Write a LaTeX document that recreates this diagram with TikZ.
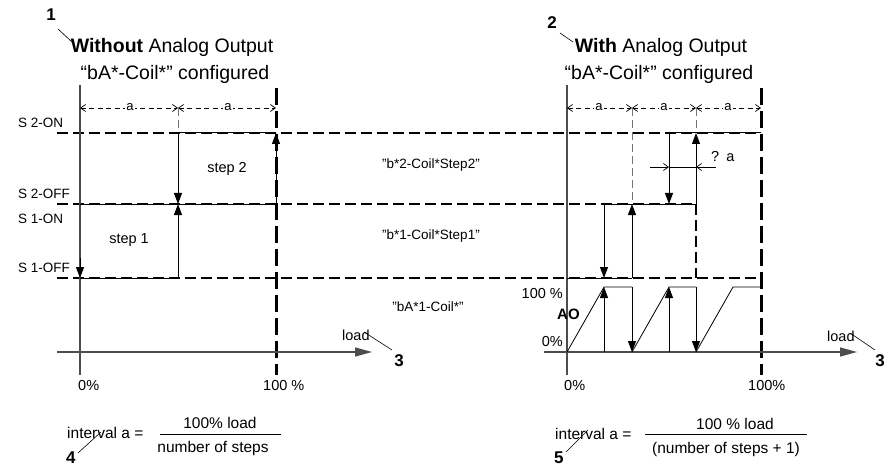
\documentclass[tikz,border=0pt]{standalone}
\usepackage{fontspec}
\setmainfont{Liberation Sans}
\usetikzlibrary{arrows.meta}
\begin{document}
\begin{tikzpicture}[x=1pt,y=-1pt,
  axisline/.style={draw=black!70,line width=1.2pt},
  stepline/.style={draw=black,line width=1pt},
  aoline/.style={draw=black,line width=0.8pt},
  thickdash/.style={draw=black,line width=3pt,dash pattern=on 17pt off 6pt},
  levdash/.style={draw=black,line width=2.2pt,dash pattern=on 11pt off 5pt},
  extdash/.style={draw=black!55,line width=1pt,dash pattern=on 8pt off 4pt},
  dimline/.style={draw=black,line width=0.7pt,dash pattern=on 5pt off 3.5pt,
     {Straight Barb[length=5pt,width=7pt]}-{Straight Barb[length=5pt,width=7pt]}},
  dimsolid/.style={draw=black,line width=0.7pt,-{Straight Barb[length=5pt,width=7pt]}},
  tip/.style={-{Triangle[length=11pt,width=8pt]}},
  leader/.style={draw=black,line width=0.6pt},
  title/.style={font=\fontsize{19.5}{22}\selectfont,inner sep=0pt,anchor=base},
  lvl/.style={font=\fontsize{13.5}{16}\selectfont,inner sep=0pt,anchor=base west},
  txt/.style={font=\fontsize{14.5}{17}\selectfont,inner sep=0pt,anchor=base},
  coil/.style={font=\fontsize{13.5}{16}\selectfont,inner sep=0pt,anchor=base},
  alabel/.style={font=\fontsize{13}{15}\selectfont,fill=white,inner sep=1pt},
  num/.style={font=\fontsize{17}{19}\selectfont\bfseries,inner sep=0pt,anchor=base},
  frm/.style={font=\fontsize{15.5}{18}\selectfont,inner sep=0pt,anchor=base}
]
\useasboundingbox (0,0) rectangle (884,468);
\fill[white] (0,0) rectangle (884,468);

% x positions
\coordinate (lxs) at (57,0);
\coordinate (lx0) at (80,0);
\coordinate (lxa) at (178,0);
\coordinate (lx1) at (276,0);
\coordinate (lxe) at (372,0);
\coordinate (rxs) at (544,0);
\coordinate (rx0) at (567,0);
\coordinate (rxo1) at (604,0);
\coordinate (rxa) at (632,0);
\coordinate (rxo2) at (669,0);
\coordinate (rxb) at (696,0);
\coordinate (rxr3) at (733,0);
\coordinate (rx1) at (761,0);
\coordinate (rxe) at (857,0);
% y positions
\coordinate (ytop) at (0,85);
\coordinate (ydt) at (0,88);
\coordinate (ydim) at (0,108);
\coordinate (y2on) at (0,133);
\coordinate (yq) at (0,167);
\coordinate (y12) at (0,204);
\coordinate (yoffa) at (0,258);
\coordinate (y1off) at (0,278);
\coordinate (y100) at (0,287);
\coordinate (yax) at (0,352);
\coordinate (ybot) at (0,375);

% titles
\node[num] (n1) at (51,21) {1};
\draw[leader] (58,29) -- (72,42);
\node[title] (t1) at (172,53) {\textbf{Without} Analog Output};
\node[title] (t1b) at (175,80) {“bA*-Coil*” configured};
\node[num] (n2) at (552,29) {2};
\draw[leader] (560,33) -- (573,42);
\node[title] (t2) at (661,53) {\textbf{With} Analog Output};
\node[title] (t2b) at (659,80) {“bA*-Coil*” configured};

% level labels
\node[lvl] (s2on) at (18,128) {S 2-ON};
\node[lvl] (s2off) at (18,198) {S 2-OFF};
\node[lvl] (s1on) at (18,223) {S 1-ON};
\node[lvl] (s1off) at (18,272) {S 1-OFF};

% level dashed lines
\draw[levdash] (lxs |- y2on) -- (rx1 |- y2on);
\draw[levdash] (lxs |- y12) -- (rxb |- y12);
\draw[levdash] (lxs |- y1off) -- (rx1 |- y1off);

% thick dashed 100% lines
\draw[thickdash] (lx1 |- ydt) -- (lx1 |- ybot);
\draw[thickdash] (rx1 |- ydt) -- (rx1 |- ybot);
\draw[levdash] (rxb |- y12) -- (rxb |- y1off);

% axes
\draw[axisline] (lx0 |- ytop) -- (lx0 |- ybot);
\draw[axisline,-{Triangle[length=17pt,width=9pt]}] (lxs |- yax) -- (lxe |- yax);
\draw[axisline] (rx0 |- ytop) -- (rx0 |- ybot);
\draw[axisline,-{Triangle[length=17pt,width=9pt]}] (rxs |- yax) -- (rxe |- yax);

% left dimension line
\draw[dimline] (lx0 |- ydim) -- (lxa |- ydim);
\draw[dimline] (lxa |- ydim) -- (lx1 |- ydim);
\node[alabel] (la1) at (130,107) {a};
\node[alabel] (la2) at (228,107) {a};
\draw[extdash] (lxa |- ydim) -- (lxa |- y2on);

% left step curve
\draw[stepline] (lx0 |- y12) -- (lx1 |- y12);
\draw[stepline] (lx0 |- y1off) -- (lxa |- y1off);
\draw[stepline,tip] (lxa |- y1off) -- (lxa |- y12);
\draw[stepline,tip] (lxa |- y2on) -- (lxa |- y12);
\draw[stepline] (lxa |- y2on) -- (lx1 |- y2on);
\draw[stepline,tip] (lx1 |- y12) -- (lx1 |- y2on);
\draw[stepline,tip] (lx0 |- yoffa) -- (lx0 |- y1off);
\node[txt] (st2) at (227,172) {step 2};
\node[txt] (st1) at (129,243) {step 1};

% middle texts
\node[coil] (c2) at (431,169) {"b*2-Coil*Step2"};
\node[coil] (c1) at (431,240) {"b*1-Coil*Step1"};
\node[coil] (c0) at (428,311) {"bA*1-Coil*"};

% right dimension line
\draw[dimline] (rx0 |- ydim) -- (rxa |- ydim);
\draw[dimline] (rxa |- ydim) -- (rxb |- ydim);
\draw[dimline] (rxb |- ydim) -- (rx1 |- ydim);
\node[alabel] (ra1) at (599,107) {a};
\node[alabel] (ra2) at (664,107) {a};
\node[alabel] (ra3) at (728,107) {a};
\draw[extdash] (rxa |- ydim) -- (rxa |- y12);
\draw[extdash] (rxb |- ydim) -- (rxb |- y2on);

% right step curves
\draw[stepline] (rx0 |- y1off) -- (rxa |- y1off);
\draw[stepline,tip] (rxa |- y1off) -- (rxa |- y12);
\draw[stepline] (rxo1 |- y12) -- (rxb |- y12);
\draw[stepline,tip] (rxo1 |- y12) -- (rxo1 |- y1off);
\draw[stepline] (rxo2 |- y2on) -- (rx1 |- y2on);
\draw[stepline,tip] (rxo2 |- y2on) -- (rxo2 |- y12);
\draw[stepline,tip] (rxb |- y12) -- (rxb |- y2on);

% hysteresis dimension
\coordinate (qL) at (650,167);
\coordinate (qR) at (716,167);
\draw[dimsolid] (qL) -- (rxo2 |- yq);
\draw[dimsolid] (qR) -- (rxb |- yq);
\draw[draw=black,line width=0.7pt] (rxo2 |- yq) -- (rxb |- yq);
\node[txt,anchor=base west] (qa) at (711,162) {?\hspace{7pt}a};

% analog output
\draw[aoline] (rx0 |- yax) -- (rxo1 |- y100) -- (rxa |- y100);
\draw[aoline,tip] (rxa |- y100) -- (rxa |- yax);
\draw[aoline] (rxa |- yax) -- (rxo2 |- y100) -- (rxb |- y100);
\draw[aoline,tip] (rxb |- y100) -- (rxb |- yax);
\draw[aoline] (rxb |- yax) -- (rxr3 |- y100) -- (rx1 |- y100);
\draw[aoline,tip] (rxo1 |- yax) -- (rxo1 |- y100);
\draw[aoline,tip] (rxo2 |- yax) -- (rxo2 |- y100);
\node[txt,anchor=base east] (p100) at (563,298) {100 \%};
\node[txt,anchor=base west,font=\fontsize{15}{17}\selectfont\bfseries] (ao) at (557,319) {AO};
\node[txt,anchor=base east] (p0) at (563,346) {0\%};

% axis labels
\node[txt,anchor=base west] (lload) at (342,340) {load};
\draw[leader] (364,332) -- (392,350);
\node[num] (n3l) at (399,366) {3};
\node[txt,anchor=base west] (rload) at (827,341) {load};
\draw[leader] (850,333) -- (875,350);
\node[num] (n3r) at (880,366) {3};
\node[txt,anchor=base west] (l0) at (78,390) {0\%};
\node[txt,anchor=base west] (l100) at (263,390) {100 \%};
\node[txt,anchor=base west] (r0) at (564,390) {0\%};
\node[txt,anchor=base west] (r100) at (748,390) {100\%};

% formulas
\node[frm,anchor=base west] (f4) at (67,438) {interval a =};
\node[frm] (f4n) at (220,428) {100\% load};
\node[frm] (f4d) at (213,452) {number of steps};
\coordinate (f4a) at (160,434);
\coordinate (f4b) at (281,434);
\draw[line width=0.8pt] (f4a) -- (f4b);
\node[num,anchor=base west] (n4) at (66,463) {4};
\draw[leader] (78,453) -- (101,432);

\node[frm,anchor=base west] (f5) at (555,439) {interval a =};
\node[frm] (f5n) at (735,429) {100 \% load};
\node[frm] (f5d) at (726,453) {(number of steps + 1)};
\coordinate (f5a) at (645,434);
\coordinate (f5b) at (807,434);
\draw[line width=0.8pt] (f5a) -- (f5b);
\node[num,anchor=base west] (n5) at (554,463) {5};
\draw[leader] (566,452) -- (588,430);
\end{tikzpicture}
\end{document}
